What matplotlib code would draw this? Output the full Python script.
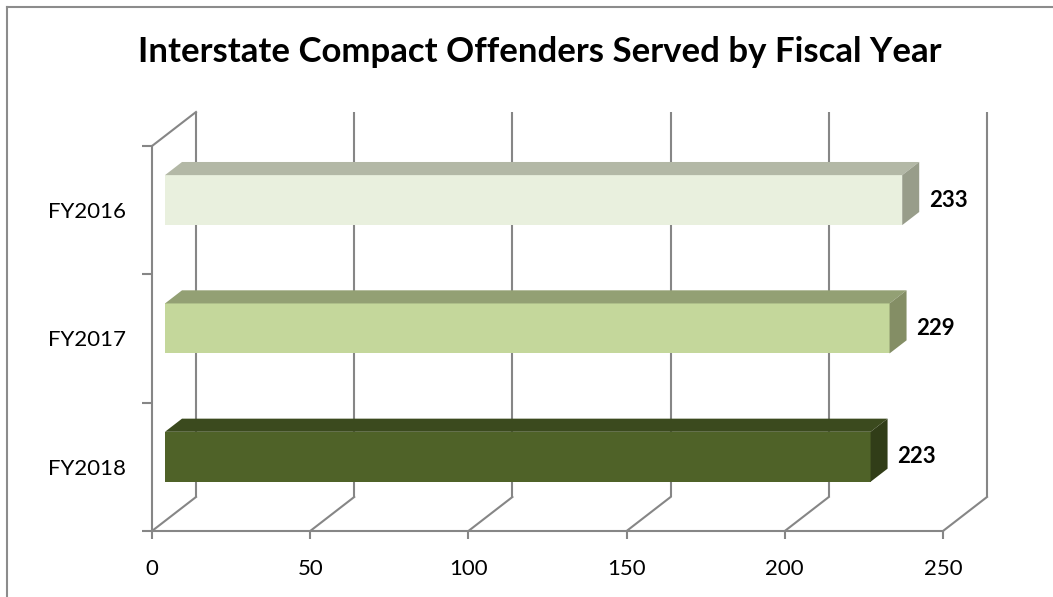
import matplotlib
matplotlib.use("Agg")
import matplotlib.pyplot as plt
from matplotlib.patches import Polygon
from matplotlib.lines import Line2D

# ---- data ----
categories = ["FY2016", "FY2017", "FY2018"]
values = [233, 229, 223]
front_colors = ["#E9F0DE", "#C4D79B", "#4F6228"]
top_colors = ["#B3B8A6", "#93A074", "#3B4A1E"]
side_colors = ["#989D8A", "#848E65", "#313D18"]
xticks = [0, 50, 100, 150, 200, 250]
title = "Interstate Compact Offenders Served by Fiscal Year"

W, H = 1053, 597
fig = plt.figure(figsize=(W / 100, H / 100), dpi=100)
plt.rcParams['font.family'] = ['Lato', 'DejaVu Sans']

# front plane of the pseudo-3D plot
x0, x1, yb, yt = 152, 943, 531, 146
ax = fig.add_axes([x0 / W, 1 - yb / H, (x1 - x0) / W, (yb - yt) / H])
XMAX, YMAX = 250, 3
ax.set_xlim(0, XMAX)
ax.set_ylim(0, YMAX)

# depth (in pixels) converted to data units
DPX, DPY = 44, 34
DXU = DPX * XMAX / (x1 - x0)
DYU = DPY * YMAX / (yb - yt)
f0, f1 = 13 / 44, 30 / 44
bar_h = 50 * YMAX / (yb - yt)

grid_c = "#868686"
glw = 1.5

# back wall gridlines + floor diagonals
for v in xticks:
    ax.plot([v + DXU, v + DXU], [DYU, YMAX + DYU], color=grid_c, lw=glw,
            clip_on=False, zorder=1, solid_capstyle='butt')
    ax.plot([v, v + DXU], [0, DYU], color=grid_c, lw=glw, clip_on=False, zorder=1)
# left wall top edge
ax.plot([0, DXU], [YMAX, YMAX + DYU], color=grid_c, lw=glw, clip_on=False, zorder=1)

# bars
n = len(categories)
ddx = (f1 - f0) * DXU
ddy = (f1 - f0) * DYU
for i, (cat, v) in enumerate(zip(categories, values)):
    c = (n - 1 - i) + 0.5
    yc = c + f0 * DYU
    left = f0 * DXU
    ax.barh([yc], [v], left=left, height=bar_h, color=front_colors[i],
            edgecolor='none', zorder=3, clip_on=False)
    ytop = yc + bar_h / 2
    ybot = yc - bar_h / 2
    top = Polygon([(left, ytop), (left + v, ytop), (left + v + ddx, ytop + ddy),
                   (left + ddx, ytop + ddy)], closed=True, facecolor=top_colors[i],
                  edgecolor='none', zorder=3, clip_on=False)
    side = Polygon([(left + v, ybot), (left + v + ddx, ybot + ddy),
                    (left + v + ddx, ytop + ddy), (left + v, ytop)], closed=True,
                   facecolor=side_colors[i], edgecolor='none', zorder=3, clip_on=False)
    ax.add_patch(top)
    ax.add_patch(side)
    ax.annotate(str(v), xy=(left + v, yc), xytext=(27, 0), textcoords='offset pixels',
                ha='left', va='center', fontsize=16, fontweight='bold', color='black',
                zorder=5, annotation_clip=False)

# spines / ticks
for s in ['top', 'right']:
    ax.spines[s].set_visible(False)
for s in ['left', 'bottom']:
    ax.spines[s].set_color(grid_c)
    ax.spines[s].set_linewidth(glw)
    ax.spines[s].set_zorder(2)
ax.set_facecolor('none')

ax.set_xticks(xticks)
ax.set_xticklabels([str(t) for t in xticks])
ax.tick_params(axis='x', direction='out', length=6, width=glw, color=grid_c,
               labelsize=16, pad=14)
ax.set_yticks([0, 1, 2, 3])
ax.set_yticklabels([])
ax.tick_params(axis='y', which='major', direction='out', length=7, width=glw, color=grid_c)
ax.set_yticks([(n - 1 - i) + 0.5 for i in range(n)], minor=True)
ax.set_yticklabels(categories, minor=True)
ax.tick_params(axis='y', which='minor', length=0, labelsize=16, pad=19)

fig.text(540 / W, 1 - 52 / H, title, ha='center', va='center', fontsize=25,
         fontweight='bold')

# outer chart border (top and left edges visible)
fig.add_artist(Line2D([7 / W, 1], [1 - 7 / H, 1 - 7 / H], color='#8C8C8C', lw=1.5,
                      transform=fig.transFigure))
fig.add_artist(Line2D([7 / W, 7 / W], [0, 1 - 7 / H], color='#8C8C8C', lw=1.5,
                      transform=fig.transFigure))

fig.savefig("out.png", dpi=100)
